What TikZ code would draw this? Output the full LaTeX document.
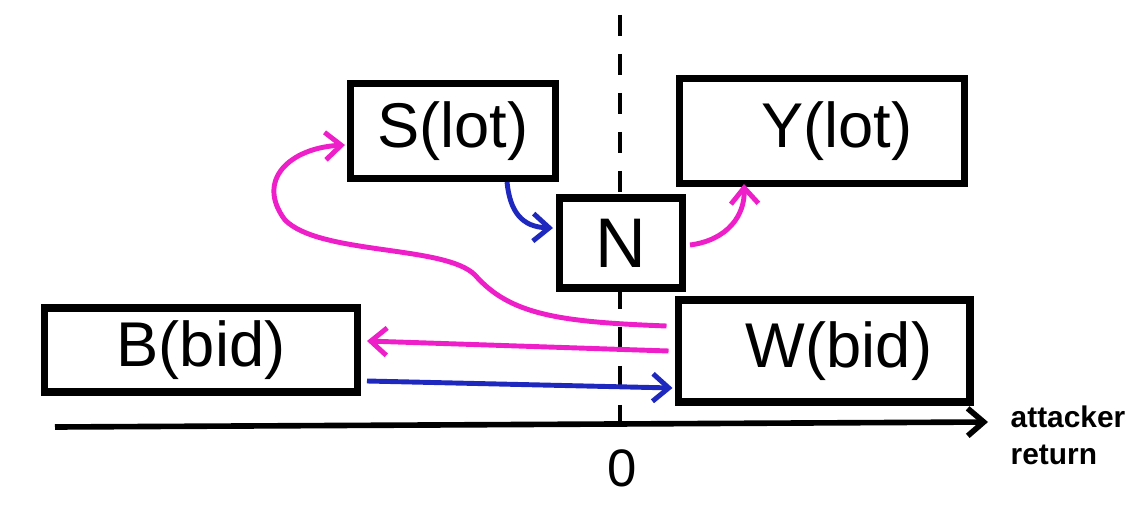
\documentclass[tikz,border=0pt]{standalone}
\usepackage{fontspec}
\setmainfont{Liberation Sans}
\usetikzlibrary{arrows.meta,calc}
\definecolor{mag}{RGB}{238,30,200}
\definecolor{blu}{RGB}{30,40,190}
\tikzset{
  box/.style={draw=black,line width=4pt,fill=white,inner sep=0pt,font=\fontsize{36}{40}\selectfont},
  conn/.style={line width=2.8pt,-{Straight Barb[length=0.32cm,width=0.55cm,line width=2.8pt]}},
  pinkc/.style={conn,draw=mag},
  bluec/.style={conn,draw=blu},
}
\begin{document}
\begin{tikzpicture}[x=0.02cm,y=-0.02cm]
\useasboundingbox (0,0) rectangle (1148,520);
% dashed zero line
\coordinate (dtop) at (620,15);
\coordinate (dbot) at (620,442);
\draw[line width=2.6pt,dash pattern=on 0.42cm off 0.36cm] (dtop) -- (dbot);
% axis
\coordinate (ax0) at (55,427);
\coordinate (ax1) at (988,422);
\draw[line width=3.2pt,-{Straight Barb[length=0.32cm,width=0.55cm,line width=3.2pt]}] (ax0) -- (ax1);
\node[font=\fontsize{30}{34}\selectfont] (zero) at (622,468) {0};
\node[font=\fontsize{17}{21}\selectfont\bfseries,align=left] (lab) at (1068,435) {attacker\\return};
% boxes
\node[box,minimum width=4.1cm,minimum height=1.9cm] (S) at (453,131) {S(lot)};
\node[box,minimum width=5.7cm,minimum height=2.1cm] (Y) at (822,131) {\hspace*{0.6cm}Y(lot)};
\node[box,minimum width=2.46cm,minimum height=1.8cm,font=\fontsize{40}{44}\selectfont] (N) at (621,243) {N};
\node[box,minimum width=6.26cm,minimum height=1.68cm] (B) at (201,350) {B(bid)};
\node[box,minimum width=5.84cm,minimum height=2.04cm] (W) at (824,351) {\hspace*{0.6cm}W(bid)};
% connectors
\draw[pinkc] ($(W.west)+(-8,-25)$) .. controls (560,322) and (510,315) .. (475,275)
  .. controls (445,245) and (320,255) .. (285,220)
  .. controls (255,180) and (290,148) .. ($(S.west)+(-2,14)$);
\draw[pinkc] ($(W.west)+(-6,0)$) -- ($(B.east)+(6,-9)$);
\draw[bluec] ($(B.east)+(6,31)$) -- ($(W.west)+(-2,37)$);
\draw[bluec] ($(S.south)+(54,0)$) .. controls (510,212) and (522,227) .. ($(N.west)+(-3,-15)$);
\draw[pinkc] ($(N.east)+(4,2)$) .. controls (728,240) and (745,215) .. ($(Y.south)+(-78,-3)$);
\end{tikzpicture}
\end{document}
